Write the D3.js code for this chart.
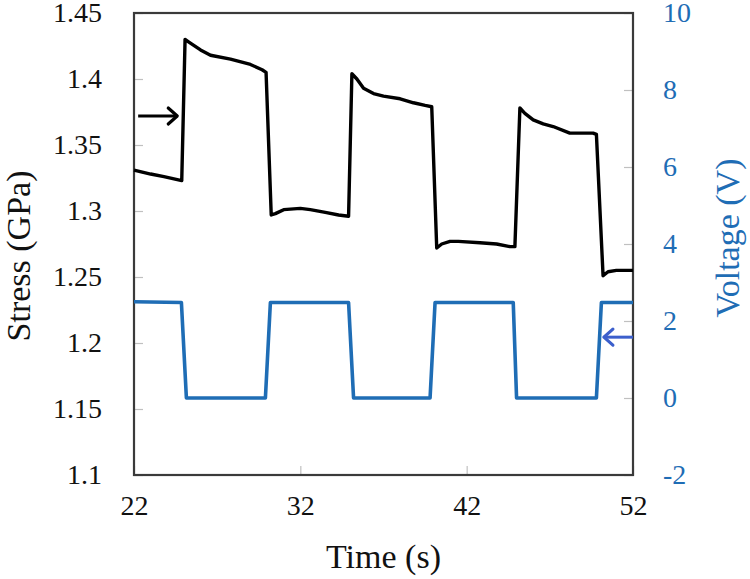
<!DOCTYPE html>
<html>
<head>
<meta charset="utf-8">
<script src="https://cdn.jsdelivr.net/npm/d3@7"></script>
<style>
  body { margin: 0; background: #fff; }
</style>
</head>
<body>
<svg id="chart" width="750" height="579"></svg>
<script>
// stress trace (black)
var stressTime = [22, 23, 23.8, 24.87, 25.07, 25.3, 26.0, 26.6, 27.8, 29.0, 29.7, 29.94,
  30.25, 30.5, 31, 32, 32.6, 33.5, 34.3, 34.9, 35.1, 35.4, 35.8, 36.4, 37, 38, 38.8, 39.5, 39.9,
  40.2, 40.5, 41, 41.5, 42.8, 43.8, 44.6, 44.9, 45.2, 45.5, 46.0, 46.6, 47.2, 48.2, 49.0, 49.6, 49.8,
  50.2, 50.5, 51, 52]
var stressValue = [1.331, 1.328, 1.326, 1.323, 1.430, 1.428, 1.422, 1.418, 1.415, 1.411, 1.407, 1.405,
  1.297, 1.298, 1.301, 1.302, 1.301, 1.299, 1.297, 1.296, 1.404, 1.400, 1.393, 1.389, 1.387, 1.385, 1.382, 1.380, 1.379,
  1.272, 1.275, 1.277, 1.277, 1.276, 1.275, 1.273, 1.273, 1.378, 1.374, 1.369, 1.366, 1.364, 1.359, 1.359, 1.359, 1.358,
  1.251, 1.254, 1.255, 1.255]

// voltage trace (blue)
var voltTime  = [22, 24.85, 25.15, 29.9, 30.2, 34.9, 35.2, 39.8, 40.1, 44.8, 45.0, 49.8, 50.1, 52]
var voltValue = [2.5, 2.48, 0, 0, 2.48, 2.48, 0, 0, 2.48, 2.48, 0, 0, 2.48, 2.48]

var timeTicks = [22, 32, 42, 52]
var stressTicks = [1.1, 1.15, 1.2, 1.25, 1.3, 1.35, 1.4, 1.45]
var voltTicks = [-2, 0, 2, 4, 6, 8, 10]

// annotation arrows: [t0, t1, value]
var stressArrow = [22.25, 24.6, 1.372]
var voltArrow = [52, 50.25, 1.58]

var font = '"Liberation Serif", "Times New Roman", Tinos, Times, "DejaVu Serif", serif'
var svg = d3.select("#chart")
var m = {top: 13, right: 117, bottom: 104, left: 134}
var w = 750 - m.left - m.right
var h = 579 - m.top - m.bottom
var blue = "#1f6db5"

var g = svg.append("g").attr("transform", "translate(" + m.left + "," + m.top + ")")

var x = d3.scaleLinear().domain([22, 52]).range([0, w])
var yL = d3.scaleLinear().domain([1.1, 1.45]).range([h, 0])
var yR = d3.scaleLinear().domain([-2, 10]).range([h, 0])

// axes with inward gray ticks
var xAxis = g.append("g").attr("transform", "translate(0," + h + ")")
  .call(d3.axisBottom(x).tickValues(timeTicks).tickSize(-9).tickPadding(20))
var lAxis = g.append("g")
  .call(d3.axisLeft(yL).tickValues(stressTicks).tickSize(-9).tickPadding(32)
    .tickFormat(function(d){ return String(+d.toFixed(2)) }))
var rAxis = g.append("g").attr("transform", "translate(" + w + ",0)")
  .call(d3.axisRight(yR).tickValues(voltTicks).tickSize(-9).tickPadding(30)
    .tickFormat(function(d){ return String(d) }))

;[xAxis, lAxis, rAxis].forEach(function(a){
  a.attr("font-family", null).attr("font-size", null)
  a.select(".domain").remove()
  a.selectAll(".tick line").attr("stroke", "#c0c0c0").attr("stroke-width", 1.2)
  a.selectAll("text").style("font-family", font).style("font-size", "28px").attr("fill", "#111")
})
rAxis.selectAll("text").attr("fill", blue)
xAxis.selectAll("text").attr("dy", "0.71em")

// frame
g.append("rect").attr("width", w).attr("height", h)
  .attr("fill", "none").attr("stroke", "#3a3a3a").attr("stroke-width", 2.2)

// lines
var stressData = stressTime.map(function(t, i){ return [t, stressValue[i]] })
var voltData = voltTime.map(function(t, i){ return [t, voltValue[i]] })

g.append("path").datum(voltData)
  .attr("fill", "none").attr("stroke", blue).attr("stroke-width", 3.6).attr("stroke-linejoin", "round")
  .attr("d", d3.line().x(function(d){ return x(d[0]) }).y(function(d){ return yR(d[1]) }))

g.append("path").datum(stressData)
  .attr("fill", "none").attr("stroke", "#000").attr("stroke-width", 3.4).attr("stroke-linejoin", "round")
  .attr("d", d3.line().x(function(d){ return x(d[0]) }).y(function(d){ return yL(d[1]) }))

// arrows
function arrow(x0, x1, yy, col) {
  var dir = x1 > x0 ? 1 : -1
  g.append("line").attr("x1", x0).attr("x2", x1).attr("y1", yy).attr("y2", yy)
    .attr("stroke", col).attr("stroke-width", 3)
  g.append("path")
    .attr("d", "M" + (x1 - dir * 9) + "," + (yy - 8) + "L" + x1 + "," + yy + "L" + (x1 - dir * 9) + "," + (yy + 8))
    .attr("fill", "none").attr("stroke", col).attr("stroke-width", 3.2)
    .attr("stroke-linecap", "round").attr("stroke-linejoin", "round")
}
arrow(x(stressArrow[0]), x(stressArrow[1]), yL(stressArrow[2]), "#000")
arrow(x(voltArrow[0]), x(voltArrow[1]), yR(voltArrow[2]), "#3c5fcc")

// axis titles
function title(tr, txt, col) {
  svg.append("text").attr("transform", tr).attr("text-anchor", "middle")
    .style("font-family", font).style("font-size", "34px").attr("fill", col).text(txt)
}
title("translate(" + (m.left + w / 2) + ",568)", "Time (s)", "#111")
title("translate(30,256) rotate(-90)", "Stress (GPa)", "#111")
title("translate(739,238) rotate(-90)", "Voltage (V)", blue)
</script>
</body>
</html>
